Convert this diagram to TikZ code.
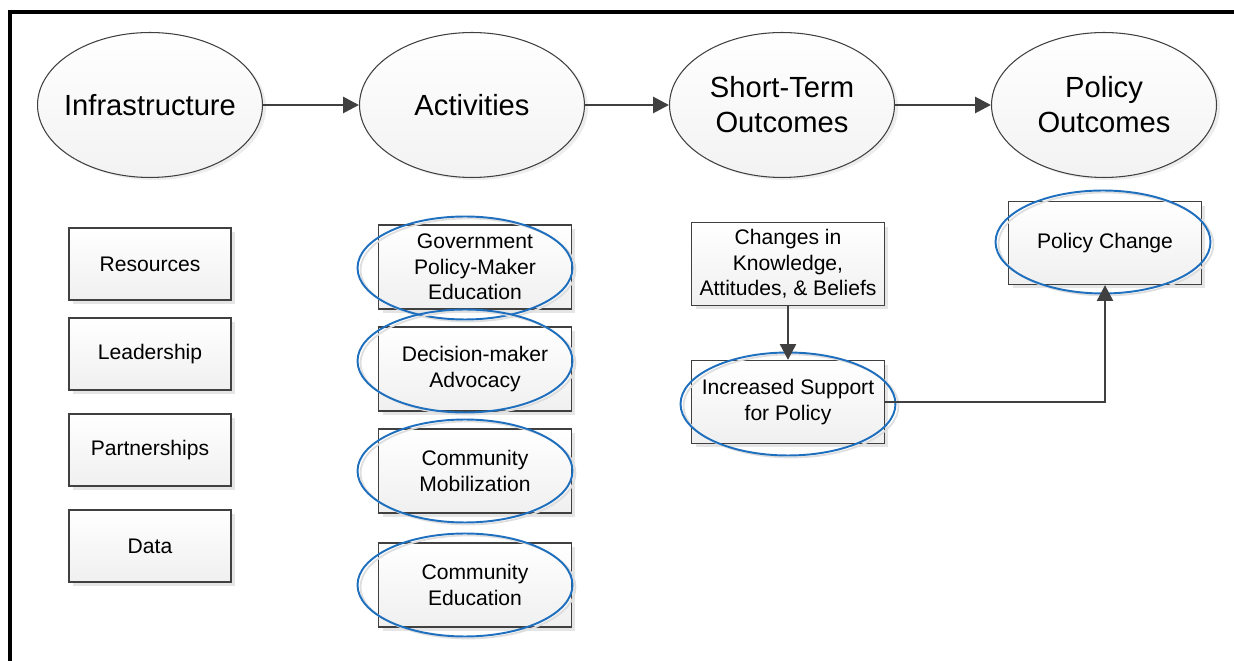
\documentclass[tikz,border=0pt]{standalone}
\usepackage{fontspec}
\setmainfont{Liberation Sans}
\usetikzlibrary{arrows.meta,shapes.geometric,shadows}

\definecolor{gris}{HTML}{404040}
\definecolor{azul}{HTML}{1F6FBF}

\tikzset{
  etapa/.style={ellipse, draw=gris, line width=0.6pt, top color=white, bottom color=black!5,
    minimum width=4.5cm, minimum height=2.9cm, inner xsep=-0.3cm, inner ysep=0pt, align=center,
    font=\fontsize{16.6}{20}\selectfont,
    general shadow={fill=black!7, shadow xshift=0.07cm, shadow yshift=-0.05cm}},
  caja/.style={rectangle, draw=gris, line width=0.7pt, top color=white, bottom color=black!6,
    minimum width=3.86cm, minimum height=1.66cm, inner sep=0pt, align=center,
    font=\fontsize{12}{14.5}\selectfont,
    general shadow={fill=black!10, shadow xshift=0.08cm, shadow yshift=-0.08cm}},
  marca/.style={ellipse, draw=azul, line width=1.1pt, minimum width=4.3cm, minimum height=2.06cm,
    inner sep=0pt, general shadow={draw=black!13, line width=1pt, shadow xshift=0.06cm, shadow yshift=-0.04cm}},
  flecha/.style={draw=gris, line width=1.6pt, -{Triangle[length=9pt,width=9pt]}}
}

\begin{document}
\begin{tikzpicture}[x=0.02cm, y=-0.02cm]
  \useasboundingbox (0,0) rectangle (1234,661);

  % Marco
  \draw[line width=2.3pt] (10,661) -- (10,12) -- (1234,12);

  % Etapas
  \node[etapa] (infra)  at (150,105)  {Infrastructure};
  \node[etapa] (activ)  at (472,105)  {Activities};
  \node[etapa] (corto)  at (782,105)  {Short-Term\\Outcomes};
  \node[etapa] (result) at (1104,105) {Policy\\Outcomes};

  \draw[flecha] (infra) -- (activ);
  \draw[flecha] (activ) -- (corto);
  \draw[flecha] (corto) -- (result);

  % Infraestructura
  \node[caja, minimum width=3.24cm, minimum height=1.44cm] (recur)  at (150,264) {Resources};
  \node[caja, minimum width=3.24cm, minimum height=1.44cm] (lider)  at (150,354) {Leadership};
  \node[caja, minimum width=3.24cm, minimum height=1.44cm] (socios) at (150,450) {Partnerships};
  \node[caja, minimum width=3.24cm, minimum height=1.44cm] (datos)  at (150,546) {Data};

  % Actividades
  \node[caja, minimum height=1.68cm] (gob)    at (475,267) {Government\\Policy-Maker\\Education};
  \node[caja, minimum height=1.68cm] (abog)   at (475,369) {Decision-maker\\Advocacy};
  \node[caja, minimum height=1.68cm] (movil)  at (475,471) {Community\\Mobilization};
  \node[caja, minimum height=1.68cm] (educ)   at (475,585) {Community\\Education};

  \node[marca] (ovGob)   at (465,268) {};
  \node[marca] (ovAbog)  at (465,361) {};
  \node[marca] (ovMovil) at (465,471) {};
  \node[marca] (ovEduc)  at (465,585) {};

  % Resultados a corto plazo
  \node[caja] (conoc) at (788,264) {Changes in\\Knowledge,\\Attitudes, \& Beliefs};
  \node[caja] (apoyo) at (788,402) {Increased Support\\for Policy};
  \node[marca] (ovApoyo) at (788,404) {};

  \draw[flecha] (conoc) -- (apoyo);

  % Resultado de politica
  \node[caja] (cambio) at (1105,243) {Policy Change};
  \node[marca] (ovCambio) at (1103,242) {};

  \draw[flecha] (apoyo.east) -| (cambio.south);
\end{tikzpicture}
\end{document}
